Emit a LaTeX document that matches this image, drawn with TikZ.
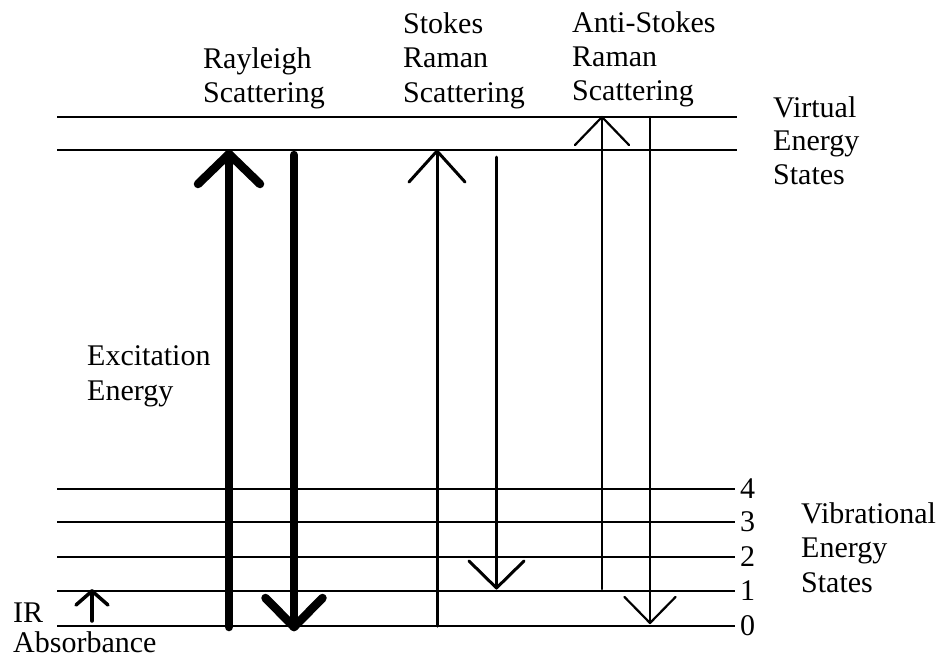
\documentclass[tikz,border=0pt]{standalone}
\usepackage{fontspec}
\setmainfont{Liberation Serif}
\usetikzlibrary{calc}
\newcommand\barbhead[4]{\draw[#4] ($(#1)+(-#2,#3)$) -- (#1) -- ($(#1)+(#2,#3)$);}
\begin{document}
\begin{tikzpicture}[x=1pt,y=-1pt,
  lbl/.style={anchor=base west,inner sep=0pt,font=\fontsize{30}{34}\selectfont},
  num/.style={anchor=west,inner sep=0pt,font=\fontsize{30}{34}\selectfont},
  level/.style={line width=1.3pt},
  heavy/.style={line width=8.5pt,line cap=round,line join=round},
  medium/.style={line width=3pt,line cap=round,line join=round},
  light/.style={line width=2.2pt,line cap=round,line join=round},
  irarrow/.style={line width=3.5pt,line cap=round,line join=round}]
\useasboundingbox (0,0) rectangle (939,659);
\fill[white] (0,0) rectangle (939,659);

% levels
\coordinate (va) at (57,117); \coordinate (vaE) at (737,117);
\coordinate (vb) at (57,150); \coordinate (vbE) at (737,150);
\draw[level] (va) -- (vaE);
\draw[level] (vb) -- (vbE);
\foreach \n/\y in {4/489,3/522,2/557,1/591,0/626}{
  \coordinate (l\n) at (57,\y);
  \coordinate (l\n E) at (735,\y);
  \draw[level] (l\n) -- (l\n E);
  \node[num] (n\n) at (740,\y) {\n};
}

% Rayleigh
\coordinate (ru0) at (229,627); \coordinate (ru1) at (229,154);
\draw[heavy] (ru0) -- (ru1); \barbhead{ru1}{31}{30}{heavy}
\coordinate (rd0) at (294,155); \coordinate (rd1) at (294,627);
\draw[heavy] (rd0) -- (rd1); \barbhead{rd1}{28.5}{-29}{heavy}

% Stokes
\coordinate (su0) at (437,626); \coordinate (su1) at (437,151);
\draw[medium] (su0) -- (su1); \barbhead{su1}{28}{31}{medium}
\coordinate (sd0) at (496.5,157); \coordinate (sd1) at (496.5,588);
\draw[medium] (sd0) -- (sd1); \barbhead{sd1}{27.5}{-27}{medium}

% Anti-Stokes
\coordinate (au0) at (602,589); \coordinate (au1) at (602,117);
\draw[light] (au0) -- (au1); \barbhead{au1}{27}{28}{light}
\coordinate (ad0) at (650,117); \coordinate (ad1) at (650,623);
\draw[light] (ad0) -- (ad1); \barbhead{ad1}{25.5}{-26}{light}

% IR
\coordinate (ir0) at (92,621); \coordinate (ir1) at (92,591);
\draw[irarrow] (ir0) -- (ir1); \barbhead{ir1}{16}{14}{irarrow}

% labels
\node[lbl] (ray1) at (203,68) {Rayleigh};
\node[lbl] (ray2) at (203,102) {Scattering};
\node[lbl] (sto1) at (403,33) {Stokes};
\node[lbl] (sto2) at (403,67.5) {Raman};
\node[lbl] (sto3) at (403,102) {Scattering};
\node[lbl] (ant1) at (572,32) {Anti-Stokes};
\node[lbl] (ant2) at (572,66) {Raman};
\node[lbl] (ant3) at (572,100) {Scattering};
\node[lbl] (vir1) at (773,117) {Virtual};
\node[lbl] (vir2) at (773,150.5) {Energy};
\node[lbl] (vir3) at (773,184) {States};
\node[lbl] (exc1) at (87,365) {Excitation};
\node[lbl] (exc2) at (87,400) {Energy};
\node[lbl] (ir1t) at (13,622) {IR};
\node[lbl] (ir2t) at (13,652) {Absorbance};
\node[lbl] (vib1) at (801,523) {Vibrational};
\node[lbl] (vib2) at (801,557) {Energy};
\node[lbl] (vib3) at (801,592) {States};
\end{tikzpicture}
\end{document}
